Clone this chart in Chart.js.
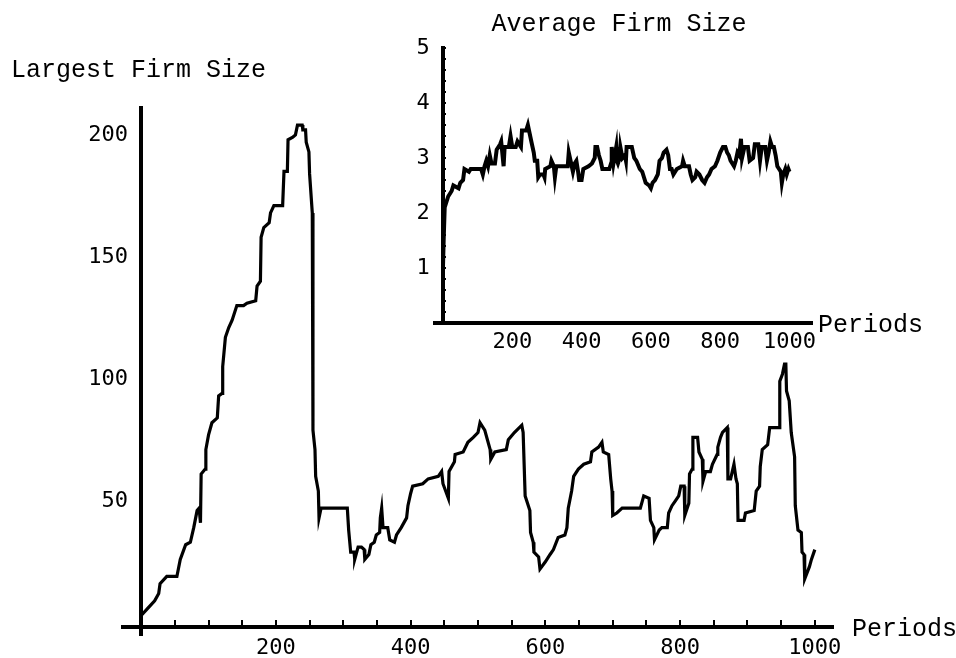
<!DOCTYPE html>
<html>
<head>
<meta charset="utf-8">
<script src="https://cdn.jsdelivr.net/npm/chart.js@4.4.1/dist/chart.umd.min.js"></script>
<style>
  body { margin: 0; background: #fff; }
  #wrap { position: relative; width: 956px; height: 658px; }
  #wrap canvas { position: absolute; left: 0; top: 0; }
</style>
</head>
<body>
<div id="wrap">
  <canvas id="largest" width="956" height="658"></canvas>
  <canvas id="average" width="956" height="658"></canvas>
</div>
<script>
// largest firm size per period
const periods = [0, 10, 20, 26, 28, 38, 53, 58, 66, 73, 78, 83, 86, 88, 89, 95, 96, 100, 105, 113,
  115, 120, 121, 125, 130, 135, 142, 152, 157, 170, 172, 177, 178, 182, 190, 192, 197, 210, 212, 217,
  218, 225, 229, 232, 239, 240, 244, 245, 249, 250, 254, 255, 258, 259, 263, 264, 267, 306, 308, 311,
  316, 317, 322, 327, 331, 332, 338, 341, 346, 349, 354, 355, 357, 359, 366, 369, 376, 379, 386, 394,
  396, 400, 403, 418, 426, 441, 446, 448, 456, 457, 465, 466, 478, 485, 493, 500, 503, 510, 518, 519,
  525, 542, 545, 554, 565, 567, 570, 577, 578, 582, 583, 590, 592, 600, 607, 612, 619, 629, 632, 634,
  639, 642, 649, 657, 667, 669, 679, 684, 686, 694, 697, 699, 700, 706, 714, 741, 744, 746, 754, 756,
  761, 762, 769, 773, 781, 783, 788, 793, 798, 801, 806, 807, 813, 814, 818, 819, 826, 828, 833, 834,
  838, 845, 848, 855, 856, 860, 863, 870, 871, 875, 880, 883, 885, 886, 895, 897, 910, 913, 918, 919,
  922, 930, 933, 947, 948, 952, 955, 957, 958, 962, 965, 970, 971, 975, 980, 981, 984, 985, 992, 995, 1000];
const largestSize = [3, 6, 9, 12, 16, 19, 19, 26, 32, 33, 39, 46, 47, 41, 61, 63, 71, 77, 82, 84,
  93, 94, 105, 117, 121, 124, 130, 130, 131, 132, 138, 140, 158, 162, 164, 168, 171, 171, 185, 185,
  198, 199, 200, 204, 204, 202, 202, 197, 193, 184, 168, 79, 71, 60, 54, 43, 47, 47, 38, 29,
  29, 26, 31, 31, 30, 26, 28, 32, 33, 36, 37, 43, 47, 39, 39, 34, 33, 36, 39, 43,
  48, 53, 56, 57, 59, 60, 62, 57, 51, 62, 66, 69, 70, 74, 76, 78, 82, 79, 71, 67,
  70, 71, 75, 78, 81, 78, 52, 46, 37, 33, 29, 27, 22, 25, 28, 30, 35, 36, 39, 47,
  54, 60, 63, 65, 66, 70, 72, 74, 70, 69, 59, 54, 44, 45, 47, 47, 50, 52, 51, 42,
  39, 34, 38, 39, 39, 45, 48, 50, 52, 56, 56, 44, 49, 61, 63, 76, 76, 70, 67, 58,
  62, 62, 65, 69, 72, 76, 78, 80, 59, 59, 65, 59, 57, 42, 42, 45, 46, 54, 56, 64,
  71, 73, 80, 80, 99, 102, 106, 106, 95, 91, 78, 68, 48, 38, 37, 29, 28, 18, 23, 26, 30];

// average firm size per period
const avgPeriods = [0, 2, 5, 10, 15, 25, 30, 45, 50, 58, 62, 75, 80, 110, 115, 120, 125, 130, 135, 140,
  150, 155, 165, 168, 175, 178, 190, 195, 200, 210, 215, 225, 228, 240, 245, 250, 255, 262, 265, 272,
  275, 280, 290, 293, 295, 310, 313, 320, 323, 327, 360, 363, 370, 375, 380, 385, 390, 393, 400, 405,
  420, 430, 438, 440, 445, 450, 455, 460, 480, 485, 487, 492, 500, 502, 505, 510, 512, 518, 525, 528,
  530, 545, 552, 558, 568, 575, 580, 585, 595, 600, 605, 612, 620, 625, 632, 637, 645, 650, 655, 660,
  665, 670, 675, 690, 693, 698, 710, 715, 720, 728, 732, 740, 748, 755, 762, 768, 775, 785, 792, 800,
  808, 815, 820, 825, 830, 840, 845, 850, 855, 860, 863, 870, 880, 885, 895, 900, 910, 915, 920, 930,
  935, 940, 945, 950, 955, 960, 965, 970, 975, 978, 982, 988, 992, 997, 1000];
const avgSize = [1.0, 1.5, 2.1, 2.2, 2.3, 2.4, 2.5, 2.45, 2.55, 2.6, 2.8, 2.75, 2.8, 2.8, 2.7, 2.85, 2.95, 2.85, 3.05, 2.9,
  2.9, 3.15, 3.25, 3.3, 2.85, 3.2, 3.2, 3.4, 3.2, 3.2, 3.3, 3.2, 3.5, 3.5, 3.6, 3.45, 3.3, 3.1, 2.95, 2.95,
  2.65, 2.7, 2.7, 2.65, 2.8, 2.85, 2.95, 2.85, 2.65, 2.85, 2.85, 3.1, 2.9, 2.75, 2.9, 2.95, 2.75, 2.6, 2.6, 2.8,
  2.85, 2.9, 3.0, 3.2, 3.2, 3.05, 2.95, 2.8, 2.8, 2.9, 3.2, 2.9, 3.2, 2.95, 2.9, 3.0, 3.2, 3.0, 3.05, 2.95,
  3.2, 3.2, 3.0, 2.95, 2.8, 2.75, 2.65, 2.55, 2.5, 2.45, 2.55, 2.6, 2.7, 2.95, 3.0, 3.1, 3.15, 3.05, 2.8, 2.8,
  2.7, 2.75, 2.8, 2.85, 2.95, 2.85, 2.85, 2.7, 2.6, 2.65, 2.75, 2.7, 2.6, 2.55, 2.65, 2.7, 2.8, 2.85, 2.95, 3.1,
  3.2, 3.2, 3.1, 3.05, 2.95, 2.85, 2.95, 3.1, 3.05, 3.35, 3.0, 3.2, 3.2, 2.95, 3.0, 3.25, 3.25, 2.95, 3.2, 3.2,
  2.95, 3.1, 3.3, 3.2, 3.2, 3.05, 2.85, 2.8, 2.75, 2.55, 2.7, 2.8, 2.7, 2.8, 2.75];

// labelled ticks
const periodLabels = [200, 400, 600, 800, 1000];
const largestLabels = [50, 100, 150, 200];
const avgLabels = [1, 2, 3, 4, 5];

const TICK_FONT = { family: "'DejaVu Sans Mono', monospace", size: 22 };
const NAME_FONT = "25px 'Liberation Mono', monospace";

Chart.defaults.color = '#000';

// axis names drawn beside the axes instead of Chart.js titles
const axisNames = {
  id: 'axisNames',
  afterDraw(chart, args, opts) {
    const { ctx, chartArea, scales } = chart;
    const axisY = scales.y.getPixelForValue(opts.xAxisAt);
    ctx.save();
    ctx.font = NAME_FONT;
    ctx.fillStyle = '#000';
    ctx.textBaseline = 'middle';
    ctx.textAlign = 'left';
    ctx.fillText(opts.xName, chartArea.right + opts.xGap, axisY + 2);
    ctx.textAlign = opts.yAlign;
    ctx.fillText(opts.yName, opts.yNameX, opts.yNameY);
    ctx.restore();
  }
};

function toPoints(xs, ys) {
  return xs.map((x, i) => ({ x: x, y: ys[i] }));
}

function isWhole(v) {
  return Math.abs(v - Math.round(v)) < 1e-6;
}

// y labels sit right on a value-positioned axis, a trailing space keeps them off the line
function padLabel(v) {
  return String(v) + ' ';
}

new Chart(document.getElementById('largest'), {
  type: 'line',
  data: {
    datasets: [{
      data: toPoints(periods, largestSize),
      borderColor: '#000',
      borderWidth: 3.2,
      pointRadius: 0,
      tension: 0,
      fill: false
    }]
  },
  options: {
    responsive: false,
    animation: false,
    layout: { padding: { left: 123, right: 123, top: 108, bottom: 23 } },
    plugins: {
      legend: { display: false },
      tooltip: { enabled: false },
      axisNames: { xName: 'Periods', xAxisAt: -1.7, xGap: 19, yName: 'Largest Firm Size', yAlign: 'left', yNameX: 11, yNameY: 70 }
    },
    scales: {
      x: {
        type: 'linear',
        min: -27,
        max: 1027,
        position: { y: -1.7 },
        border: { display: true, color: '#000', width: 4 },
        // negative length puts the small marks above the axis line
        grid: { drawOnChartArea: false, drawTicks: true, tickLength: -9, color: '#000', lineWidth: 2 },
        ticks: {
          stepSize: 50,
          includeBounds: false,
          autoSkip: false,
          maxRotation: 0,
          padding: 17,
          font: TICK_FONT,
          callback: v => periodLabels.includes(v) ? String(v) : ''
        }
      },
      y: {
        type: 'linear',
        min: -5,
        max: 211,
        position: { x: 0 },
        border: { display: true, color: '#000', width: 4 },
        grid: { drawOnChartArea: false, drawTicks: false },
        ticks: {
          stepSize: 50,
          includeBounds: false,
          autoSkip: false,
          font: TICK_FONT,
          callback: v => largestLabels.includes(v) ? padLabel(v) : ''
        }
      }
    }
  },
  plugins: [axisNames]
});

new Chart(document.getElementById('average'), {
  type: 'line',
  data: {
    datasets: [{
      data: toPoints(avgPeriods, avgSize),
      borderColor: '#000',
      borderWidth: 4,
      pointRadius: 0,
      tension: 0,
      fill: false
    }]
  },
  options: {
    responsive: false,
    animation: false,
    layout: { padding: { left: 435, right: 144, top: 48, bottom: 335 } },
    plugins: {
      legend: { display: false },
      tooltip: { enabled: false },
      axisNames: { xName: 'Periods', xAxisAt: 0, xGap: 6, yName: 'Average Firm Size', yAlign: 'center', yNameX: 619, yNameY: 24 }
    },
    scales: {
      x: {
        type: 'linear',
        min: -23,
        max: 1065,
        position: { y: 0 },
        border: { display: true, color: '#000', width: 4 },
        grid: { drawOnChartArea: false, drawTicks: false },
        ticks: {
          stepSize: 200,
          includeBounds: false,
          autoSkip: false,
          maxRotation: 0,
          padding: 6,
          font: TICK_FONT,
          callback: v => periodLabels.includes(v) ? String(v) : ''
        }
      },
      y: {
        type: 'linear',
        min: 0,
        max: 5,
        position: { x: 0 },
        border: { display: true, color: '#000', width: 4 },
        grid: { drawOnChartArea: false, drawTicks: true, tickLength: -5, color: '#000', lineWidth: 2 },
        ticks: {
          stepSize: 0.2,
          includeBounds: false,
          autoSkip: false,
          font: TICK_FONT,
          callback: v => (isWhole(v) && avgLabels.includes(Math.round(v))) ? padLabel(Math.round(v)) : ''
        }
      }
    }
  },
  plugins: [axisNames]
});
</script>
</body>
</html>
